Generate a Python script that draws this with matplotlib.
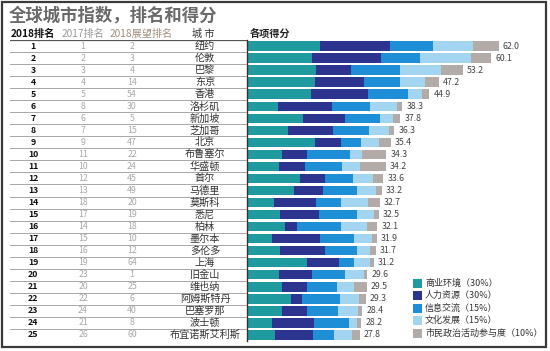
import numpy as np
import matplotlib
matplotlib.use("Agg")
import matplotlib.pyplot as plt
from matplotlib.patches import Rectangle

plt.rcParams['font.family'] = ['Noto Sans CJK SC', 'DejaVu Sans']

# ---- data ----
rank_2018 = list(range(1, 26))
rank_2017 = [1, 2, 3, 4, 5, 8, 6, 7, 9, 11, 10, 12, 13, 18, 17, 14, 15, 16, 19, 23, 20, 22, 24, 21, 26]
outlook_2018 = [2, 3, 4, 14, 54, 30, 5, 15, 47, 22, 24, 45, 49, 20, 19, 18, 10, 12, 64, 1, 25, 6, 40, 8, 60]
cities = ['纽约', '伦敦', '巴黎', '东京', '香港', '洛杉矶', '新加坡', '芝加哥', '北京', '布鲁塞尔',
          '华盛顿', '首尔', '马德里', '莫斯科', '悉尼', '柏林', '墨尔本', '多伦多', '上海', '旧金山',
          '维也纳', '阿姆斯特丹', '巴塞罗那', '波士顿', '布宜诺斯艾利斯']
totals = [62.0, 60.1, 53.2, 47.2, 44.9, 38.3, 37.8, 36.3, 35.4, 34.3, 34.2, 33.6, 33.2, 32.7, 32.5,
          32.1, 31.9, 31.7, 31.2, 29.6, 29.5, 29.3, 28.4, 28.2, 27.8]

business = [18.1, 16.1, 16.9, 16.7, 15.8, 7.6, 13.8, 10.1, 16.7, 8.6, 7.9, 13.0, 11.6, 6.6, 8.2,
            9.3, 6.2, 8.2, 14.8, 7.9, 8.7, 10.9, 8.6, 6.2, 6.8]
human = [17.2, 17.0, 8.6, 12.0, 14.0, 13.3, 10.4, 11.1, 6.4, 6.2, 6.5, 6.2, 7.1, 10.5, 9.5,
         2.9, 11.9, 10.9, 7.9, 8.0, 6.1, 2.7, 6.2, 10.3, 9.4]
info = [10.5, 9.4, 12.1, 8.9, 9.9, 9.4, 8.6, 8.9, 5.1, 10.5, 9.1, 6.8, 8.4, 6.0, 9.3,
        10.9, 8.2, 8.0, 3.6, 8.3, 7.4, 9.2, 7.7, 8.5, 5.3]
culture = [9.9, 12.6, 10.3, 6.2, 3.5, 6.6, 3.1, 4.8, 4.4, 3.1, 4.3, 5.1, 4.6, 6.7, 4.3,
           6.5, 4.6, 3.1, 3.9, 4.6, 4.1, 4.9, 4.9, 2.2, 4.4]
political = [6.3, 5.0, 5.3, 3.4, 1.7, 1.4, 1.9, 1.4, 2.8, 5.9, 6.4, 2.5, 1.5, 2.9, 1.2,
             2.5, 1.0, 1.5, 1.0, 0.8, 3.2, 1.6, 1.0, 1.0, 1.9]

series_labels = ['商业环境（30%）', '人力资源（30%）', '信息交流（15%）', '文化发展（15%）', '市民政治活动参与度（10%）']
series_colors = ['#1f9a9e', '#2c3490', '#1e8fd6', '#a3d5f1', '#b3aba7']

# ---- figure ----
W, H = 550, 351
fig = plt.figure(figsize=(W / 100, H / 100), dpi=100)

def fx(px):
    return px / W

def fy(py):
    return 1 - py / H

# outer frame
fig.patches.append(Rectangle((fx(1.5), fy(347)), fx(545.5) - fx(1.5), fy(1.5) - fy(347),
                             transform=fig.transFigure, fill=False, edgecolor='#3a3a3a', lw=1.6))

row_top, row_h = 40, 12.04
ax_bottom = fy(row_top + 25 * row_h)
ax_height = 25 * row_h / H

# bar axes
ax = fig.add_axes([fx(247), ax_bottom, fx(545) - fx(247), ax_height])
px_per_unit = 4.06
ax.set_xlim(0, (545 - 247) / px_per_unit)
ax.set_ylim(25.5, 0.5)
for s in ['top', 'right', 'bottom']:
    ax.spines[s].set_visible(False)
ax.spines['left'].set_color('#333333')
ax.spines['left'].set_linewidth(1.0)
ax.set_xticks([])
ax.set_yticks([])
ax.patch.set_alpha(0)

y = np.array(rank_2018)
left = np.zeros(len(y))
for vals, col in zip([business, human, info, culture, political], series_colors):
    ax.barh(y, vals, left=left, height=0.78, color=col, linewidth=0)
    left = left + np.array(vals)
for yi, end, tot in zip(y, left, totals):
    ax.text(end + 1.0, yi, f'{tot:.1f}', va='center', ha='left', fontsize=6.3, color='#444444')

# table axes
tax = fig.add_axes([fx(10), ax_bottom, fx(247) - fx(10), ax_height])
tax.set_xlim(10, 247)
tax.set_ylim(25.5, 0.5)
tax.axis('off')
tax.axhline(0.5, color='#555555', lw=0.9)
for i in range(1, 26):
    tax.axhline(i + 0.5, color='#9a9a9a', lw=0.6)
for yi, r18, r17, o18, c in zip(y, rank_2018, rank_2017, outlook_2018, cities):
    tax.text(33, yi, str(r18), ha='center', va='center', fontsize=6.3, fontweight='heavy', color='#111111')
    tax.text(83, yi, str(r17), ha='center', va='center', fontsize=6.3, color='#a8a8a8')
    tax.text(132, yi, str(o18), ha='center', va='center', fontsize=6.3, color='#a8a8a8')
    tax.text(205, yi, c, ha='center', va='center', fontsize=7.3, color='#333333')

# headers
hy = 0.0
tax.text(33, hy, '2018排名', ha='center', va='center', fontsize=7.3, fontweight='bold', color='#111111', clip_on=False)
tax.text(83, hy, '2017排名', ha='center', va='center', fontsize=7.3, color='#9a9a9a', clip_on=False)
tax.text(141, hy, '2018展望排名', ha='center', va='center', fontsize=7.3, color='#a08e7c', clip_on=False)
tax.text(203, hy, '城 市', ha='center', va='center', fontsize=7.3, color='#333333', clip_on=False)
fig.text(fx(250), fy(34), '各项得分', ha='left', va='center', fontsize=7.3, fontweight='bold', color='#222222')

# title
fig.text(fx(9), fy(16), '全球城市指数，排名和得分', ha='left', va='center', fontsize=12.5,
         fontweight='bold', color='#6a6a6a')

# legend
leg_y0, leg_dy = 283, 12.6
for k, (lab, col) in enumerate(zip(series_labels, series_colors)):
    yy = leg_y0 + k * leg_dy
    fig.patches.append(Rectangle((fx(413), fy(yy + 4.5)), fx(9), 9 / H,
                                 transform=fig.transFigure, color=col, lw=0))
    fig.text(fx(425), fy(yy), lab, ha='left', va='center', fontsize=6.5, color='#333333')

fig.savefig('out.png', dpi=100)
